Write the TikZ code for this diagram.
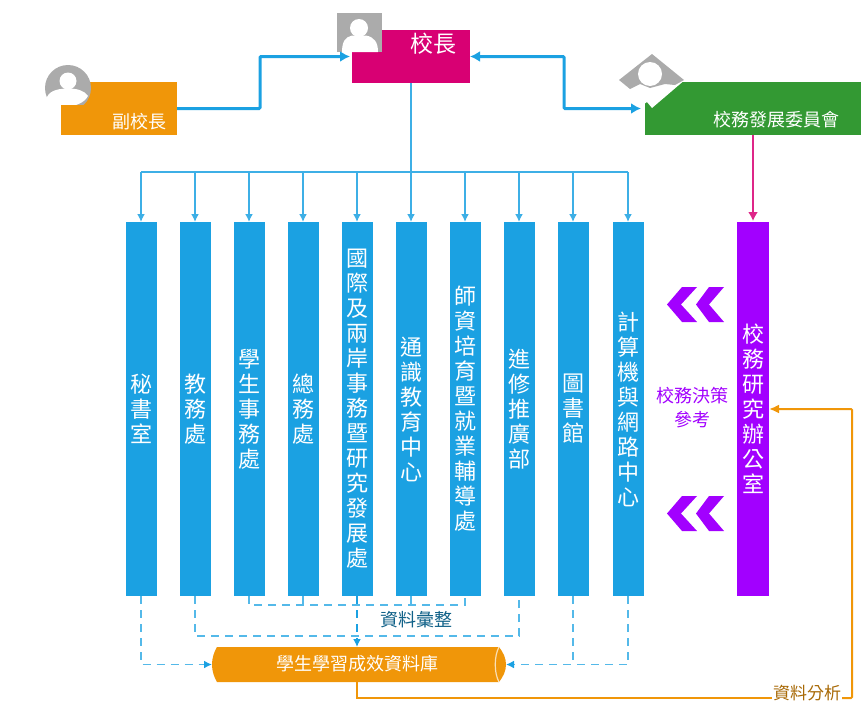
\documentclass[tikz,border=0pt]{standalone}
\usepackage{fontspec}
\setmainfont{Noto Sans CJK TC}
\usetikzlibrary{arrows.meta}
\definecolor{cblue}{HTML}{1BA1E2}
\definecolor{corange}{HTML}{F09609}
\definecolor{cmag}{HTML}{D80073}
\definecolor{cgreen}{HTML}{339933}
\definecolor{cpurple}{HTML}{A200FF}
\definecolor{cgray}{HTML}{ABABAB}
\tikzset{
  box/.style={rectangle,inner sep=0pt,outer sep=0pt},
  barbox/.style={box,fill=cblue,minimum width=31pt,minimum height=374pt,text=white,align=center,
     font=\fontsize{22}{25}\selectfont},
  smalltext/.style={inner sep=0pt,font=\fontsize{18}{24}\selectfont,align=center},
  whitetext/.style={smalltext,text=white},
  thickarrow/.style={cblue,line width=3pt,-{Latex[length=10pt,width=11pt]},rounded corners=1pt},
  busline/.style={cblue!85,line width=1.8pt},
  droparrow/.style={busline,-{Latex[length=8pt,width=8pt]}},
  dashline/.style={cblue!75,line width=1.8pt,dash pattern=on 8pt off 6pt},
  dasharrow/.style={dashline,-{Latex[length=8pt,width=8pt,color=cblue]}},
  flowline/.style={corange,line width=2pt},
  chev/.style={fill=cpurple,draw=none}
}
\begin{document}
\begin{tikzpicture}[x=1pt,y=-1pt]
\useasboundingbox (0,0) rectangle (861,704);
% header boxes
\node[box,fill=corange,minimum width=116pt,minimum height=53pt] (vice) at (119,108.5) {};
\node[box,fill=cmag,minimum width=118pt,minimum height=53pt] (pres) at (411,56.5) {};
\node[box,fill=cgreen,minimum width=216pt,minimum height=53pt] (comm) at (753,108.5) {};
\fill[white] (644,81) -- (683,81.5) -- (652,108) -- (647,102) -- (644,104) -- cycle;
% person icons
\begin{scope}
  \clip (40,60) rectangle (100,104.5);
  \fill[cgray] (68,88) circle (23);
  \fill[white] (68,81) circle (8.5);
  \fill[white] (47,97) .. controls (50,90) and (60,88.5) .. (68,88.5) .. controls (76,88.5) and (84,90) .. (88,96) .. controls (84,103) and (76,106) .. (68,106) -- (44,106) -- cycle;
\end{scope}
\fill[cgray] (337,13) rectangle (382,52);
\fill[white] (359,28) circle (9);
\fill[white] (342,52) .. controls (342,42) and (345,37) .. (352,35.5) -- (366,35.5) .. controls (374,37) and (378,42) .. (378,52) -- cycle;
\fill[cgray] (652,54) -- (684,80) -- (675,85) -- (665,84) -- (650,88) -- (640,84) -- (630,89) -- (619,80) -- cycle;
\fill[white] (650,74) circle (12);
% header labels
\node[whitetext] (viceT) at (139,122) {副校長};
\node[whitetext,font=\fontsize{23}{25}\selectfont] (presT) at (433,44) {校長};
\node[whitetext] (commT) at (776,120) {校務發展委員會};
% bars
\node[barbox] (b1) at (141,409) {秘\\書\\室};
\node[barbox] (b2) at (195,409) {教\\務\\處};
\node[barbox] (b3) at (249,409) {學\\生\\事\\務\\處};
\node[barbox] (b4) at (303,409) {總\\務\\處};
\node[barbox] (b5) at (357,409) {國\\際\\及\\兩\\岸\\事\\務\\暨\\研\\究\\發\\展\\處};
\node[barbox] (b6) at (411,409) {通\\識\\教\\育\\中\\心};
\node[barbox] (b7) at (465,409) {師\\資\\培\\育\\暨\\就\\業\\輔\\導\\處};
\node[barbox] (b8) at (519,409) {進\\修\\推\\廣\\部};
\node[barbox] (b9) at (573,409) {圖\\書\\館};
\node[barbox] (b10) at (628,409) {計\\算\\機\\與\\網\\路\\中\\心};
\node[barbox,fill=cpurple,minimum width=32pt] (rs) at (753,409) {校\\務\\研\\究\\辦\\公\\室};
% chevrons
\foreach \cy in {304.5,513.5}{
  \fill[chev] (667,\cy) -- (682,\cy-17.5) -- (697,\cy-17.5) -- (681,\cy) -- (697,\cy+17.5) -- (682,\cy+17.5) -- cycle;
  \fill[chev] (696,\cy) -- (709,\cy-17.5) -- (724,\cy-17.5) -- (709,\cy) -- (724,\cy+17.5) -- (709,\cy+17.5) -- cycle;
}
\node[smalltext,text=cpurple] (dec) at (692,408) {校務決策\\參考};
% database
\node[box,minimum width=294pt,minimum height=35pt] (cyl) at (359,664.5) {};
\fill[corange] (217,647) .. controls (214,652) and (212,658) .. (212,664.5) .. controls (212,671) and (214,677) .. (217,682) -- (499,682) .. controls (503,677) and (506,671) .. (506,664.5) .. controls (506,658) and (503,652) .. (499,647) -- cycle;
\draw[white!70!corange,line width=1.2pt] (499,647) .. controls (494,656) and (494,673) .. (499,682);
\node[whitetext] (cylT) at (357,664) {學生學習成效資料庫};
% top arrows
\coordinate (viaL) at (260,80);
\coordinate (viaR) at (564,80);
\draw[thickarrow,shorten >=2pt] (vice.east) -| (viaL) |- (pres.west);
\draw[thickarrow,{Latex[length=10pt,width=11pt]}-{Latex[length=10pt,width=11pt]},shorten >=4pt] (pres.east) -| (viaR) |- (comm.west);
% bus
\coordinate (bus) at (411,172);
\draw[busline] (bus -| b1.north) -- (bus -| b10.north);
\draw[droparrow] (pres.south) -- (b6.north);
\foreach \i in {1,2,3,4,5,7,8,9,10}{
  \draw[droparrow] (bus -| b\i.north) -- (b\i.north);
}
\draw[cmag!85,line width=2.2pt,-{Latex[length=9pt,width=10pt]},shorten >=1pt] (comm.south -| rs.north) -- (rs.north);
% dashed collection
\coordinate (d1) at (300,605);
\coordinate (d2) at (300,636);
\draw[dashline] (b3.south) |- (d1) -| (b7.south);
\draw[dashline] (b4.south) -- (b4.south |- d1);
\draw[dashline] (b6.south) -- (b6.south |- d1);
\draw[dashline] (b2.south) |- (d2) -| (b8.south);
\draw[dasharrow] (b1.south) |- (cyl.west);
\draw[dasharrow] (b10.south) |- (cyl.east);
\draw[dashline] (b9.south) -- (b9.south |- cyl.east);
\draw[dasharrow,cblue] (b5.south) -- (b5.south |- cyl.north);
\node[smalltext,text=cblue!60!black,fill=white,inner xsep=1pt] (col) at (416,620) {資料彙整};
% analysis line
\coordinate (anaY) at (807,698);
\coordinate (turn) at (852,500);
\draw[flowline] (b5.south |- cyl.south) |- (anaY);
\draw[flowline,-{Latex[length=10pt,width=9pt]},rounded corners=1pt] (anaY) -| (turn) |- (rs.east);
\node[smalltext,text=corange!70!black,fill=white,inner xsep=1pt,font=\fontsize{17}{20}\selectfont] (ana) at (807,693) {資料分析};
\end{tikzpicture}
\end{document}
